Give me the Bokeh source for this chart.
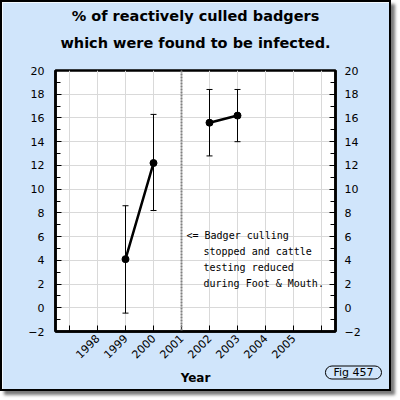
import math
from bokeh.plotting import figure
from bokeh.models import (Range1d, LinearAxis, FixedTicker, Whisker, TeeHead, Span,
                          Label, ColumnDataSource, Title)
from bokeh.embed import file_html
from bokeh.resources import INLINE

# ---- data ----
years = [1999, 2000, 2002, 2003]
pct_infected = [4.1, 12.2, 15.6, 16.2]
ci_lower = [-0.45, 8.2, 12.8, 14.0]
ci_upper = [8.6, 16.3, 18.4, 18.4]
fmd_year = 2001
x_ticks = list(range(1997, 2007))
x_tick_labels = {y: ("" if y in (1997, 2006) else str(y)) for y in x_ticks}
y_major = list(range(-2, 21, 2))
y_minor = list(range(-1, 20, 2))
title_lines = ["% of reactively culled badgers", "which were found to be infected."]
note_lines = ["<= Badger culling", "stopped and cattle", "testing reduced", "during Foot & Mouth."]
fig_tag = "Fig 457"
x_label = "Year"

# ---- layout constants (canvas coords = reference px - 2) ----
BG = "#d0e5fb"
W = H = 391
FL, FR, FT, FB = 53, 58, 68, 62
FRAME_BOTTOM = H - FB
FONT = "DejaVu Sans"


def sx(fx):
    return fx - FL


def sy(fy):
    return FRAME_BOTTOM - fy


p = figure(width=W, height=H, output_backend="svg", toolbar_location=None,
           x_range=Range1d(1996.5, 2006.5), y_range=Range1d(-2, 20),
           min_border_left=FL, min_border_right=FR, min_border_top=FT, min_border_bottom=FB,
           border_fill_color=BG, background_fill_color="white")
p.title.visible = False
p.styles = {"border": "2px solid black", "box-shadow": "4px 4px 3px #7a7a7a"}

p.outline_line_color = "black"
p.outline_line_width = 2.5

# x axis
p.xaxis.ticker = FixedTicker(ticks=x_ticks)
p.xaxis.major_label_overrides = x_tick_labels
p.xaxis.major_label_orientation = math.pi / 4
p.xaxis.major_tick_in = 6
p.xaxis.major_tick_out = 0
p.xaxis.minor_tick_in = 0
p.xaxis.minor_tick_out = 0
p.xaxis.major_label_standoff = 5
p.xaxis.major_label_text_font = FONT
p.xaxis.major_label_text_font_size = "11px"
p.xaxis.major_label_text_color = "black"
p.xaxis.axis_label = x_label
p.xaxis.axis_label_text_font = FONT
p.xaxis.axis_label_text_font_style = "bold"
p.xaxis.axis_label_text_font_size = "12px"
p.xaxis.axis_label_text_color = "black"
p.xaxis.axis_label_standoff = 6
p.xaxis.axis_line_width = 2.5


def style_y(ax):
    ax.ticker = FixedTicker(ticks=y_major, minor_ticks=y_minor)
    ax.major_tick_in = 6
    ax.major_tick_out = 0
    ax.minor_tick_in = 5
    ax.minor_tick_out = 0
    ax.major_label_standoff = 11
    ax.major_label_text_font = FONT
    ax.major_label_text_font_size = "11px"
    ax.major_label_text_color = "black"
    ax.axis_line_width = 2.5


style_y(p.yaxis[0])
right_axis = LinearAxis()
style_y(right_axis)
right_axis.major_label_standoff = 9
p.add_layout(right_axis, "right")

p.xgrid.ticker = FixedTicker(ticks=x_ticks)
p.ygrid.ticker = FixedTicker(ticks=y_major)
p.grid.grid_line_color = "#d9d9d9"
p.grid.grid_line_width = 1

# ---- data glyphs ----
src = ColumnDataSource(dict(year=years, pct=pct_infected, lo=ci_lower, hi=ci_upper))
lx, ly = [], []
for i, (x, y) in enumerate(zip(years, pct_infected)):
    if i > 0 and x - years[i - 1] > 1:
        lx.append(float("nan"))
        ly.append(float("nan"))
    lx.append(x)
    ly.append(y)

p.add_layout(Span(location=fmd_year, dimension="height", line_color="#808080",
                  line_dash="2 1", line_width=2))

p.add_layout(Whisker(source=src, base="year", lower="lo", upper="hi",
                     line_color="black", line_width=1, level="glyph",
                     upper_head=TeeHead(size=6, line_width=1, line_color="black"),
                     lower_head=TeeHead(size=6, line_width=1, line_color="black")))
p.line(lx, ly, line_color="black", line_width=2.5)
p.scatter("year", "pct", source=src, size=7, color="black")

# ---- note inside the plot ----
for i, t in enumerate(note_lines):
    p.add_layout(Label(x=sx(184 + (0 if i == 0 else 17)), y=sy(233 + 16 * i),
                       x_units="screen", y_units="screen", text=t,
                       text_align="left", text_baseline="middle",
                       text_font="DejaVu Sans Mono", text_font_size="10px",
                       text_color="black"))

# ---- titles (nearest the frame first) ----
p.add_layout(Title(text=title_lines[1], align="center", offset=4, standoff=39,
                   text_font=FONT, text_font_style="bold", text_font_size="14.5px",
                   text_color="black"), "above")
p.add_layout(Title(text=title_lines[0], align="center", offset=4, standoff=-21,
                   text_font=FONT, text_font_style="bold", text_font_size="14.5px",
                   text_color="black"), "above")

# ---- figure tag below the axis ----
p.add_layout(Title(text=fig_tag, align="right", offset=-46, standoff=-43,
                   vertical_align="top",
                   text_font=FONT, text_font_style="normal", text_font_size="11px",
                   text_color="black", border_line_color="black", border_line_width=1,
                   background_fill_color=BG, padding=(8, 0), border_radius=7), "below")

open("out.html", "w").write(file_html(p, INLINE))
